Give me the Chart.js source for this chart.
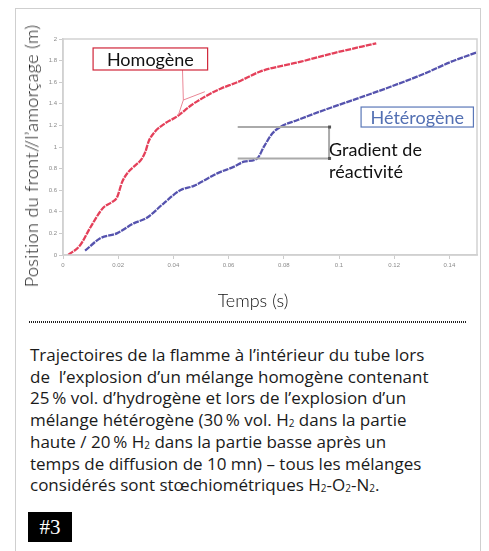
<!DOCTYPE html>
<html>
<head>
<meta charset="utf-8">
<script src="https://cdn.jsdelivr.net/npm/chart.js@4"></script>
<style>
  body { margin: 0; background: #fff; width: 489px; height: 551px; overflow: hidden; position: relative; font-family: Lato, sans-serif; }
  #card { position: absolute; left: 15px; top: 8px; width: 466px; height: 560px; border: 1px solid #cfcfcf; box-sizing: border-box; }
  #wrap { position: absolute; left: 0; top: 0; width: 489px; height: 310px; }
  .lbl { position: absolute; color: #111; white-space: nowrap; font-family: Lato, sans-serif; font-weight: 300; }
  #ytitle { left: 31px; top: 156px; font-size: 18px; letter-spacing: 0.35px; transform: translate(-50%, -50%) rotate(-90deg); }
  #xtitle { left: 253px; top: 300px; font-size: 18px; transform: translate(-50%, -50%); }
  #sep { position: absolute; left: 29px; top: 321px; width: 438px; height: 2px;
         background: repeating-linear-gradient(90deg, #222 0 1px, transparent 1px 2px); }
  #caption { position: absolute; left: 30px; top: 344px; font-family: "Liberation Sans Narrow", "Open Sans", sans-serif;
             font-size: 17px; line-height: 21.7px; color: #1a1a1a; white-space: nowrap; }
  #caption sub { font-size: 10px; vertical-align: -1px; line-height: 0; }
  #badge { position: absolute; left: 28px; top: 512px; width: 44px; height: 30px; background: #000; color: #fff;
           font-family: "Liberation Serif", "DejaVu Serif", serif; font-size: 21px; line-height: 30px; text-align: center; }
</style>
</head>
<body>
<div id="card"></div>
<div id="wrap"><canvas id="chart"></canvas></div>
<div class="lbl" id="ytitle">Position du front//l’amorçage (m)</div>
<div class="lbl" id="xtitle">Temps (s)</div>
<div id="sep"></div>
<div id="caption">
Trajectoires de la flamme à l’intérieur du tube lors<br>
de&nbsp; l’explosion d’un mélange homogène contenant<br>
25&#8201;% vol. d’hydrogène et lors de l’explosion d’un<br>
mélange hétérogène (30&#8201;% vol. H<sub>2</sub> dans la partie<br>
haute / 20&#8201;% H<sub>2</sub> dans la partie basse après un<br>
temps de diffusion de 10 mn) – tous les mélanges<br>
considérés sont stœchiométriques H<sub>2</sub>-O<sub>2</sub>-N<sub>2</sub>.
</div>
<div id="badge">#3</div>
<script>
// temps (s)
const xTicks = [0, 0.02, 0.04, 0.06, 0.08, 0.1, 0.12, 0.14];
const xTickLabels = ['0', '0.02', '0.04', '0.06', '0.08', '0.1', '0.12', '0.14'];
// position (m)
const yTicks = [0, 0.2, 0.4, 0.6, 0.8, 1, 1.2, 1.4, 1.6, 1.8, 2];
const yTickLabels = ['0', '0.2', '0.4', '0.6', '0.8', '1', '1.2', '1.4', '1.6', '1.8', '2'];

const homoT = [0.0019, 0.0062, 0.0098, 0.0145, 0.0177, 0.0195, 0.0215, 0.0237, 0.0262, 0.0284, 0.0299, 0.031,
  0.0333, 0.037, 0.0412, 0.0466, 0.0514, 0.0571, 0.0632, 0.0716, 0.0862, 0.0982, 0.1135];
const homoPos = [0.0, 0.09, 0.25, 0.435, 0.49, 0.53, 0.68, 0.77, 0.83, 0.885, 0.96, 1.05,
  1.142, 1.219, 1.281, 1.389, 1.466, 1.54, 1.6, 1.7, 1.79, 1.87, 1.96];

const hetT = [0.008, 0.0135, 0.0195, 0.0256, 0.0304, 0.0365, 0.0425, 0.0474, 0.0559, 0.062, 0.0656, 0.0704,
  0.0728, 0.0759, 0.0789, 0.085, 0.0947, 0.1068, 0.1189, 0.131, 0.1407, 0.1504];
const hetPos = [0.04, 0.155, 0.2, 0.293, 0.345, 0.479, 0.6, 0.64, 0.756, 0.818, 0.864, 0.895,
  1.003, 1.127, 1.188, 1.25, 1.343, 1.45, 1.56, 1.68, 1.79, 1.88];

// annotations, in data units
const homoBox = [0.0109, 0.0524, 1.917, 1.713];
const hetBox = [0.108, 0.1487, 1.37, 1.185];
const leader = [[0.0433, 1.713], [0.0436, 1.435], [0.0418, 1.296]];
const leader2 = [[0.0436, 1.435], [0.0514, 1.512]];
const bracket = [0.0633, 0.0964, 1.185, 0.894];

function pts(xs, ys) {
  return xs.map((x, i) => ({ x: x, y: ys[i] }));
}

const annot = {
  id: 'annot',
  afterDatasetsDraw(chart) {
    const c = chart.ctx, xs = chart.scales.x, ys = chart.scales.y, a = chart.chartArea;
    const X = v => xs.getPixelForValue(v), Y = v => ys.getPixelForValue(v);
    c.save();
    // plot frame
    c.strokeStyle = '#d2d2d2';
    c.lineWidth = 1.5;
    c.strokeRect(a.left, a.top, a.right - a.left, a.bottom - a.top);

    // leader lines
    c.strokeStyle = '#ea8796';
    c.lineWidth = 1;
    [leader, leader2].forEach(l => {
      c.beginPath();
      l.forEach((p, i) => i ? c.lineTo(X(p[0]), Y(p[1])) : c.moveTo(X(p[0]), Y(p[1])));
      c.stroke();
    });

    // bracket
    c.strokeStyle = '#aaaaaa';
    c.lineWidth = 2;
    c.beginPath();
    c.moveTo(X(bracket[0]), Y(bracket[2]));
    c.lineTo(X(bracket[1]), Y(bracket[2]));
    c.lineTo(X(bracket[1]), Y(bracket[3]));
    c.lineTo(X(bracket[0]), Y(bracket[3]));
    c.stroke();
    c.fillStyle = '#555';
    c.fillRect(X(bracket[1]) - 1, Y(bracket[2]) - 1.5, 3, 3);
    c.fillRect(X(bracket[1]) - 1, Y(bracket[3]) - 1.5, 3, 3);

    // boxes
    c.font = '18px Lato, sans-serif';
    c.textAlign = 'center';
    c.textBaseline = 'middle';
    c.lineWidth = 1.2;
    [[homoBox, '#d0263a', '#111', 'Homogène'], [hetBox, '#5b78b8', '#5370b3', 'Hétérogène']].forEach(b => {
      const r = b[0];
      const x0 = X(r[0]), x1 = X(r[1]), y0 = Y(r[2]), y1 = Y(r[3]);
      c.fillStyle = '#fff';
      c.fillRect(x0, y0, x1 - x0, y1 - y0);
      c.strokeStyle = b[1];
      c.strokeRect(x0, y0, x1 - x0, y1 - y0);
      c.fillStyle = b[2];
      c.fillText(b[3], (x0 + x1) / 2, (y0 + y1) / 2 + 1);
    });

    c.fillStyle = '#111';
    c.textAlign = 'left';
    c.fillText('Gradient de', X(bracket[1]), Y(0.972));
    c.fillText('réactivité', X(bracket[1]), Y(0.765));
    c.restore();
  }
};

new Chart(document.getElementById('chart'), {
  type: 'line',
  data: {
    datasets: [
      { label: 'Homogène', data: pts(homoT, homoPos), borderColor: '#e4405a', borderWidth: 2.3,
        borderDash: [6, 1], pointRadius: 0, cubicInterpolationMode: 'monotone' },
      { label: 'Hétérogène', data: pts(hetT, hetPos), borderColor: '#5553ae', borderWidth: 2.3,
        borderDash: [6, 1], pointRadius: 0, cubicInterpolationMode: 'monotone' }
    ]
  },
  options: {
    responsive: true,
    maintainAspectRatio: false,
    animation: false,
    layout: { padding: { left: 0, top: 39, right: 12, bottom: 0 } },
    plugins: { legend: { display: false }, tooltip: { enabled: false } },
    scales: {
      x: {
        type: 'linear', min: 0, max: 0.15,
        afterBuildTicks: s => { s.ticks = xTicks.map(v => ({ value: v })); },
        afterFit: s => { s.height = 55; },
        grid: { drawOnChartArea: false, color: '#cccccc', tickLength: 4 },
        border: { color: '#cccccc', width: 1.5 },
        ticks: { font: { size: 6 }, color: '#8a8a8a', padding: 3, maxRotation: 0, autoSkip: false,
          callback: (v, i) => xTickLabels[i] }
      },
      y: {
        min: 0, max: 2,
        afterBuildTicks: s => { s.ticks = yTicks.map(v => ({ value: v })); },
        afterFit: s => { s.width = 63; },
        grid: { drawOnChartArea: false, color: '#cccccc', tickLength: 4 },
        border: { color: '#cccccc', width: 1.5 },
        ticks: { font: { size: 6 }, color: '#8a8a8a', padding: 2, callback: (v, i) => yTickLabels[i] }
      }
    }
  },
  plugins: [annot]
});
</script>
</body>
</html>
